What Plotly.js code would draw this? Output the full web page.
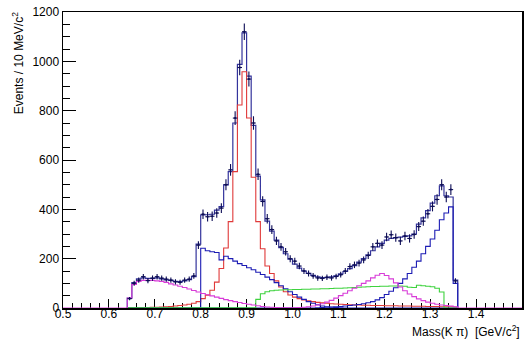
<!DOCTYPE html>
<html>
<head>
<meta charset="utf-8">
<script src="https://cdn.plot.ly/plotly-3.0.1.min.js"></script>
<style>
  html, body { margin: 0; padding: 0; background: #ffffff; }
  #chart { width: 527px; height: 339px; }
</style>
</head>
<body>
<div id="chart"></div>
<script>
// ---- data (bins of 10 MeV, lower edges in GeV) ----
const binLow = [0.64,0.65,0.66,0.67,0.68,0.69,0.70,0.71,0.72,0.73,0.74,0.75,0.76,0.77,0.78,0.79,
  0.80,0.81,0.82,0.83,0.84,0.85,0.86,0.87,0.88,0.89,0.90,0.91,0.92,0.93,0.94,0.95,0.96,0.97,0.98,0.99,
  1.00,1.01,1.02,1.03,1.04,1.05,1.06,1.07,1.08,1.09,1.10,1.11,1.12,1.13,1.14,1.15,1.16,1.17,1.18,1.19,
  1.20,1.21,1.22,1.23,1.24,1.25,1.26,1.27,1.28,1.29,1.30,1.31,1.32,1.33,1.34,1.35];
const lastEdge = 1.36;
const binHalfWidth = 0.005;

const dataCounts = [38,100,113,127,111,121,127,121,117,113,106,104,113,117,130,255,
  380,370,372,385,405,500,560,770,975,1120,928,750,542,432,362,318,272,248,228,200,
  190,170,150,140,130,122,120,125,122,128,135,150,168,175,182,195,213,248,262,255,
  288,297,285,272,292,282,298,330,352,382,412,440,500,450,480,110];

const totalFit = [40,103,118,122,120,120,122,118,114,112,108,107,110,115,127,259,
  377,378,380,397,411,499,553,750,988,1115,940,740,535,438,352,312,275,245,220,198,
  178,162,150,140,132,126,123,123,126,130,138,148,160,172,186,200,215,232,248,262,
  275,282,285,287,290,292,300,340,365,395,425,455,495,455,450,113];

const redComp = [1,1,1,2,2,3,3,4,5,6,8,10,12,15,19,26,
  38,52,72,105,160,243,350,553,823,958,770,530,350,240,170,140,110,85,66,53,
  44,38,33,29,26,23,21,19,17,16,15,14,13,12,12,11,11,10,10,10,
  9,9,9,8,8,8,7,7,7,6,6,6,5,5,5,4];

const blueLowComp = [0,0,0,0,0,0,0,0,0,0,0,0,0,0,0,0,
  242,232,228,225,195,210,200,190,180,172,163,155,145,136,125,115,103,90,78,66,
  55,44,35,26,19,13,8,5,3,2,1,0,0,0,0,0,0,0,0,0,
  0,0,0,0,0,0,0,0,0,0,0,0,0,0,0,0];

const blueHighComp = [0,0,0,0,0,0,0,0,0,0,0,0,0,0,0,0,
  0,0,0,0,0,0,0,0,0,0,0,0,0,0,0,0,0,0,0,0,
  0,0,0,0,0,1,2,3,4,5,6,8,10,12,14,17,21,26,33,42,
  55,68,82,100,118,140,165,190,220,250,280,315,358,385,410,100];

const magentaComp = [40,95,108,112,112,112,110,108,104,98,93,88,83,77,71,65,
  59,54,49,44,39,34,30,26,22,18,15,12,9,6,4,3,2,1,1,1,
  1,2,3,5,8,12,17,24,31,40,50,60,70,80,90,100,110,122,133,140,
  132,118,102,85,70,57,46,37,30,24,19,15,12,10,8,5];

const greenComp = [1,1,1,1,1,1,1,1,1,1,1,1,1,1,1,1,
  1,1,1,1,1,1,1,1,1,1,1,1,35,58,66,70,72,73,74,74,
  75,75,76,76,77,77,78,78,79,80,80,81,82,83,84,85,86,87,87,88,
  88,89,89,89,88,84,83,92,90,88,86,80,65,0,0,0];

const xRange = [0.5, 1.5];
const yRange = [0, 1200];

// ---- build step outlines from bin contents ----
function steps(vals, padToRange) {
  let x = [binLow[0]].concat(binLow, [lastEdge, lastEdge]);
  let y = [0].concat(vals, [vals[vals.length - 1], 0]);
  if (padToRange) {
    x = [xRange[0]].concat(x, [xRange[1]]);
    y = [0].concat(y, [0]);
  }
  return {x: x, y: y};
}

function histTrace(vals, color, width, pad) {
  const s = steps(vals, pad);
  return {
    type: 'scatter', mode: 'lines', x: s.x, y: s.y,
    line: {shape: 'hv', color: color, width: width},
    hoverinfo: 'skip'
  };
}

const centers = binLow.map(v => v + binHalfWidth);
const errs = dataCounts.map(v => Math.sqrt(v));

const traces = [
  histTrace(totalFit, '#34349c', 1.2, false),
  histTrace(redComp, '#e03a3a', 1.1, false),
  histTrace(blueLowComp, '#1c1cb4', 1.1, false),
  histTrace(blueHighComp, '#1c1cb4', 1.1, false),
  histTrace(greenComp, '#3ed23e', 1.1, false),
  histTrace(magentaComp, '#d83cd8', 1.1, true),
  {
    type: 'scatter', mode: 'markers', x: centers, y: dataCounts,
    marker: {size: 2, color: '#0c0c55'},
    error_y: {type: 'data', array: errs, visible: true, width: 0, thickness: 1.1, color: '#0c0c55'},
    error_x: {type: 'constant', value: binHalfWidth, visible: true, width: 0, thickness: 1.1, color: '#0c0c55'},
    hoverinfo: 'skip'
  }
];

const tickFont = {family: 'Liberation Sans, Arial, Helvetica, sans-serif', size: 12, color: '#000000'};

const layout = {
  width: 527, height: 339,
  margin: {l: 63, r: 5, t: 12, b: 31, pad: 0},
  paper_bgcolor: '#ffffff', plot_bgcolor: '#ffffff',
  showlegend: false,
  xaxis: {
    range: xRange, showgrid: false, zeroline: false,
    showline: true, mirror: true, linecolor: '#000000', linewidth: 1.5,
    ticks: 'inside', ticklen: 9, tickwidth: 1, tickcolor: '#000000',
    tick0: 0.5, dtick: 0.1, tickformat: '.1f', ticklabelstandoff: -6,
    minor: {dtick: 0.02, tick0: 0.5, ticks: 'inside', ticklen: 5, tickwidth: 1, tickcolor: '#000000', showgrid: false},
    tickfont: tickFont, layer: 'below traces', fixedrange: true
  },
  yaxis: {
    range: yRange, showgrid: false, zeroline: false,
    showline: true, mirror: true, linecolor: '#000000', linewidth: 1.5,
    ticks: 'inside', ticklen: 13, tickwidth: 1, tickcolor: '#000000',
    tick0: 0, dtick: 200,
    minor: {dtick: 50, tick0: 0, ticks: 'inside', ticklen: 7, tickwidth: 1, tickcolor: '#000000', showgrid: false},
    tickfont: tickFont, layer: 'below traces', fixedrange: true
  },
  annotations: [
    {
      text: 'Events / 10 MeV/c<sup>2</sup>', textangle: -90,
      xref: 'paper', yref: 'paper', x: -0.098, y: 1.006,
      xanchor: 'center', yanchor: 'top', showarrow: false,
      font: {family: 'Liberation Sans, Arial, Helvetica, sans-serif', size: 12, color: '#000000'}
    },
    {
      text: 'Mass(K \u03c0)\u00a0\u00a0[GeV/c<sup>2</sup>]',
      xref: 'paper', yref: 'paper', x: 1.0, y: -0.111,
      xanchor: 'right', yanchor: 'bottom', showarrow: false,
      font: {family: 'Liberation Sans, Arial, Helvetica, sans-serif', size: 12, color: '#000000'}
    }
  ]
};

Plotly.newPlot('chart', traces, layout, {staticPlot: true, displayModeBar: false});
</script>
</body>
</html>
